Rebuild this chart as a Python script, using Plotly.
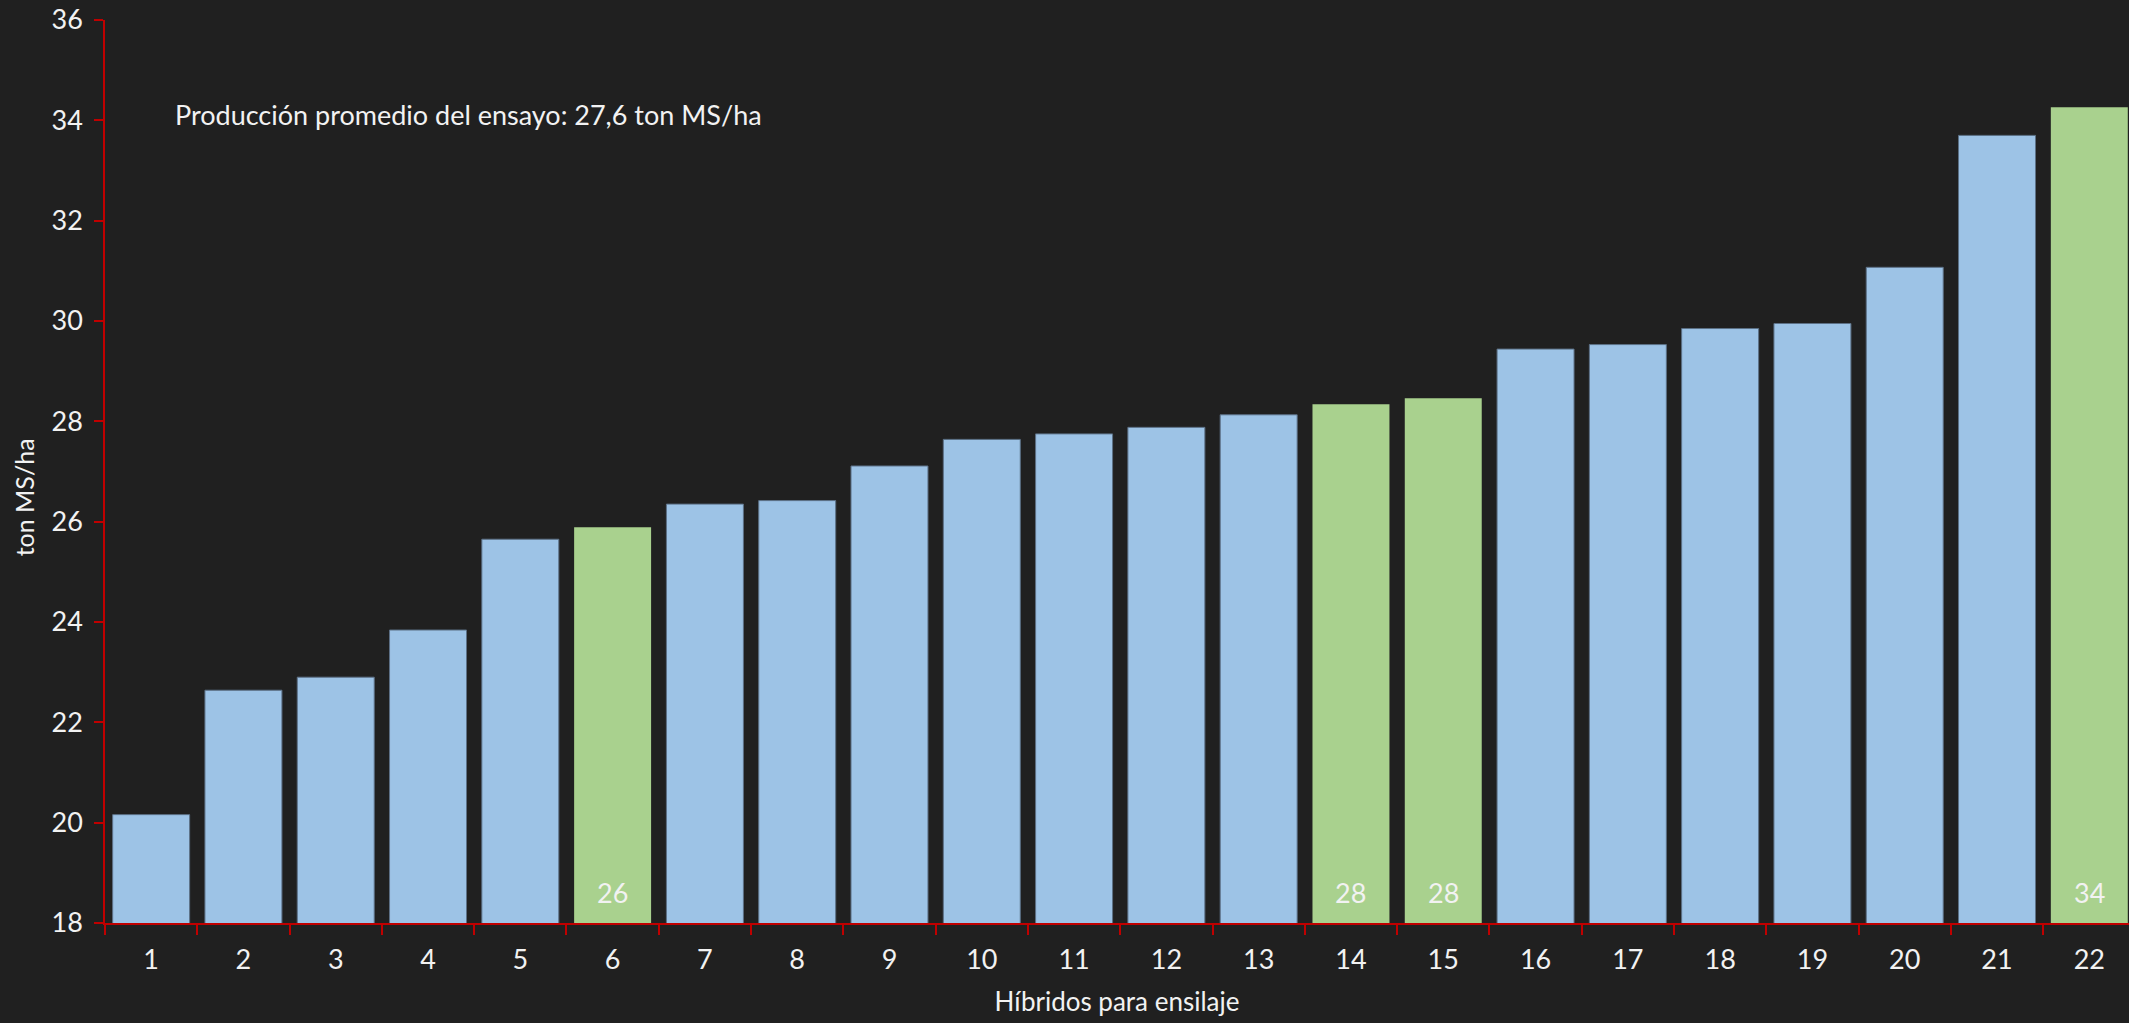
import plotly.graph_objects as go

# Hybrid number (x categories) and dry-matter yield per hybrid (ton MS/ha)
hibridos = [str(i) for i in range(1, 23)]
rendimiento = [20.16, 22.64, 22.90, 23.84, 25.65, 25.89, 26.35, 26.42, 27.11, 27.64,
               27.75, 27.88, 28.13, 28.34, 28.46, 29.44, 29.53, 29.85, 29.95, 31.07,
               33.70, 34.26]
# Highlighted hybrids (drawn green and labelled with their yield)
destacados = ["6", "14", "15", "22"]
promedio_texto = "Producción promedio del ensayo: 27,6 ton MS/ha"

AZUL = "#9dc3e6"
VERDE = "#a9d18e"
ROJO = "#c00000"
FONDO = "#202020"
TEXTO = "#f2f2f2"
FUENTE = "Lato, 'Open Sans', sans-serif"

colores = [VERDE if h in destacados else AZUL for h in hibridos]
bordes = ["rgba(0,0,0,0)" if h in destacados else "#5c7086" for h in hibridos]

fig = go.Figure()
fig.add_trace(go.Bar(
    x=hibridos,
    y=rendimiento,
    base=0,
    marker=dict(color=colores, line=dict(color=bordes, width=1)),
    hoverinfo="x+y",
))

# Value labels near the base of highlighted bars (category index positions)
for i, (h, v) in enumerate(zip(hibridos, rendimiento)):
    if h in destacados:
        fig.add_annotation(
            x=i, y=18, xref="x", yref="y",
            text=f"{v:.0f}", showarrow=False,
            yanchor="bottom", yshift=12,
            font=dict(family=FUENTE, size=27, color=TEXTO),
        )

fig.add_annotation(
    x=0.0335, y=0.895, xref="paper", yref="paper",
    xanchor="left", yanchor="middle",
    text=promedio_texto, showarrow=False,
    font=dict(family=FUENTE, size=27, color=TEXTO),
)

# Y-axis title, placed slightly below the plot's vertical centre
fig.add_annotation(
    x=-0.0402, y=0.471, xref="paper", yref="paper",
    xanchor="center", yanchor="middle", textangle=-90,
    text="ton MS/ha", showarrow=False,
    font=dict(family=FUENTE, size=25, color=TEXTO),
)

fig.update_layout(
    width=2129, height=1023,
    margin=dict(l=105, r=0, t=20, b=100),
    paper_bgcolor=FONDO, plot_bgcolor=FONDO,
    bargap=0.166,
    showlegend=False,
    font=dict(family=FUENTE, size=27, color=TEXTO),
)

fig.update_xaxes(
    type="category",
    range=[-0.5, 21.43],
    showline=True, linecolor=ROJO, linewidth=2,
    ticks="outside", tickson="boundaries", ticklen=10, tickcolor=ROJO, tickwidth=2,
    ticklabelstandoff=12,
    showgrid=False, zeroline=False,
    tickfont=dict(family=FUENTE, size=27, color=TEXTO),
    title=dict(text="Híbridos para ensilaje", standoff=18,
               font=dict(family=FUENTE, size=26, color=TEXTO)),
)

fig.update_yaxes(
    range=[18, 36], dtick=2,
    showline=True, linecolor=ROJO, linewidth=1.5,
    ticks="outside", ticklen=9, tickcolor=ROJO, tickwidth=1.5,
    ticklabelstandoff=6,
    showgrid=False, zeroline=False,
    tickfont=dict(family=FUENTE, size=27, color=TEXTO),
)

fig.write_html("out.html")
